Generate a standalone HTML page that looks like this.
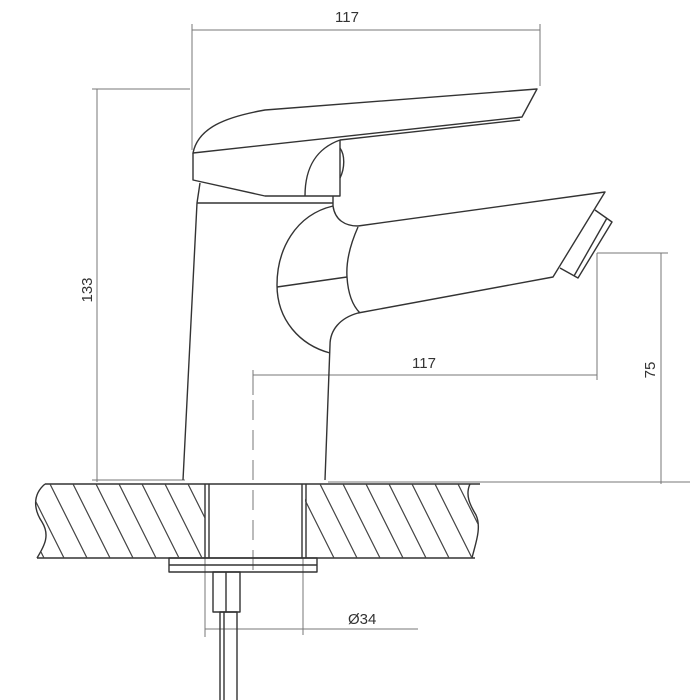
<!DOCTYPE html>
<html><head><meta charset="utf-8"><style>
html,body{margin:0;padding:0;background:#fff;}
svg{display:block}
text{font-family:"Liberation Sans",sans-serif;font-size:15px;fill:#333}
</style></head><body>
<svg width="700" height="700" viewBox="0 0 700 700" xmlns="http://www.w3.org/2000/svg">
<defs>
<clipPath id="cl"><path d="M45,484 L205,484 L205,558 L37,558 C45,545 50,535 42,522 C34,510 32,495 45,484 Z"/></clipPath>
<clipPath id="cr"><path d="M305,484 L470,484 C465,495 470,505 476,515 C482,528 475,545 472,558 L305,558 Z"/></clipPath>
</defs>
<g fill="none" stroke="#777" stroke-width="1">
<!-- dimension lines -->
<line x1="192" y1="30" x2="540" y2="30"/>
<line x1="192" y1="24" x2="192" y2="150"/>
<line x1="540" y1="24" x2="540" y2="86"/>
<line x1="92" y1="89" x2="190" y2="89"/>
<line x1="97" y1="89" x2="97" y2="482"/>
<line x1="92" y1="480" x2="185" y2="480"/>
<line x1="597" y1="253" x2="668" y2="253"/>
<line x1="597" y1="253" x2="597" y2="380"/>
<line x1="253" y1="375" x2="597" y2="375"/>
<line x1="253" y1="370" x2="253" y2="395"/>
<line x1="253" y1="400" x2="253" y2="580" stroke-dasharray="20,10"/>
<line x1="661" y1="253" x2="661" y2="484"/>
<line x1="328" y1="482" x2="690" y2="482"/>
<line x1="205" y1="558" x2="205" y2="637"/>
<line x1="303" y1="558" x2="303" y2="635"/>
<line x1="205" y1="629" x2="418" y2="629"/>
</g>
<text x="347" y="22" text-anchor="middle">117</text>
<text x="424" y="368" text-anchor="middle">117</text>
<text x="348" y="624" >Ø34</text>
<text transform="translate(92,290) rotate(-90)" text-anchor="middle">133</text>
<text transform="translate(655,370) rotate(-90)" text-anchor="middle">75</text>
<g fill="none" stroke="#333" stroke-width="1.4" stroke-linejoin="round">
<!-- handle -->
<path d="M193,153 C198,128 225,117 265,110 L537,89 L522,117 L193,153 Z"/>
<path d="M340,140 L520,120"/>
<path d="M193,153 L193,180 L265,196 L340,196 L340,140"/>
<path d="M305,196 C305,165 318,148 340,140"/>
<path d="M340,148 C345,155 345,168 340,178"/>
<!-- body -->
<path d="M200,183 L197,203 L183,480"/>
<line x1="197" y1="203" x2="333" y2="203"/>
<line x1="333" y1="196" x2="333" y2="206"/>
<path d="M333,206 C295,215 277,250 277,285 C277,320 300,345 330,353"/>
<line x1="277" y1="287" x2="347" y2="277"/>
<path d="M333,206 C335,220 345,226 358,226 L605,192 L553,277 L358,313 C340,318 330,330 330,345 L325,480"/>
<path d="M358,227 C350,245 346,262 347,277 C348,293 352,305 360,313"/>
<path d="M595,210 L612,222 L578,278 L560,268"/>
<path d="M607,218 L574,276"/>
<!-- countertop -->
<line x1="45" y1="484" x2="480" y2="484"/>
<line x1="37" y1="558" x2="475" y2="558"/>
<path d="M45,484 C32,495 34,510 42,522 C50,535 45,545 37,558"/>
<path d="M470,484 C465,495 470,505 476,515 C482,528 475,545 472,558"/>
<line x1="205" y1="484" x2="205" y2="558"/>
<line x1="209" y1="484" x2="209" y2="558"/>
<line x1="302" y1="484" x2="302" y2="558"/>
<line x1="306" y1="484" x2="306" y2="558"/>
<rect x="169" y="558" width="148" height="14"/>
<line x1="169" y1="565" x2="317" y2="565"/>
<rect x="213" y="572" width="27" height="40"/>
<line x1="226" y1="572" x2="226" y2="612"/>
<rect x="220" y="612" width="17" height="90"/>
<line x1="224" y1="612" x2="224" y2="700"/>
</g>
<g stroke="#444" stroke-width="1.2" clip-path="url(#cl)">
<path d="M20,470 L70,570 M43,470 L93,570 M66,470 L116,570 M89,470 L139,570 M112,470 L162,570 M135,470 L185,570 M158,470 L208,570 M181,470 L231,570 M0,470 L50,570"/>
</g>
<g stroke="#444" stroke-width="1.2" clip-path="url(#cr)">
<path d="M290,470 L340,570 M313,470 L363,570 M336,470 L386,570 M359,470 L409,570 M382,470 L432,570 M405,470 L455,570 M428,470 L478,570 M451,470 L501,570"/>
</g>
</svg>
</body></html>
